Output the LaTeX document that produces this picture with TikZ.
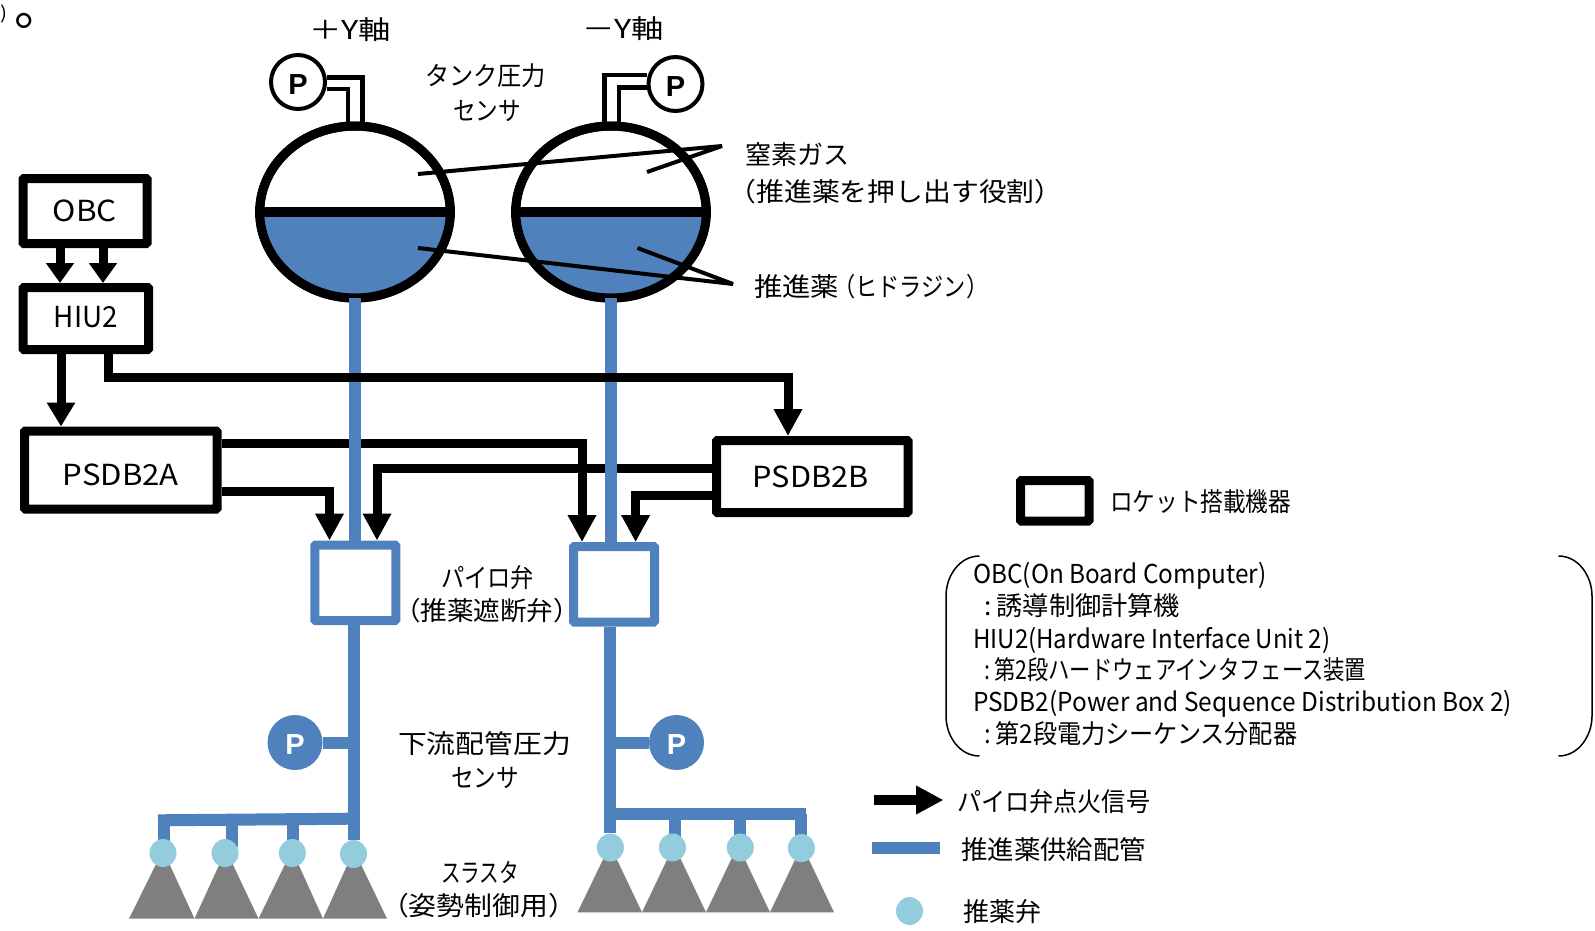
\documentclass[tikz,border=0pt]{standalone}
\usepackage{fontspec}
\usepackage{graphicx}
\usetikzlibrary{arrows.meta,shapes.geometric,calc}
\setmainfont{Noto Sans CJK JP}
\newfontfamily\pfont{Liberation Sans Bold}
\definecolor{pipeblue}{HTML}{4F81BD}
\definecolor{valveblue}{HTML}{93CDDD}
\definecolor{thrgray}{HTML}{7F7F7F}
\newcommand\TX[2]{\resizebox{#1pt}{\height}{#2}}
\newcommand\LT[2]{\resizebox{#1pt}{\height}{\fontsize{29}{29}\selectfont #2}}
% #1 = twice the downward offset of the content inside a centred node
\newcommand\DN[2]{\raisebox{0pt}[\dimexpr\height+#1pt\relax]{#2}}
\pgfdeclarelayer{under}
\pgfsetlayers{under,main}
\tikzset{
 every node/.style={inner sep=0pt,font=\fontsize{26}{26}\selectfont},
 devbox/.style={draw=black,line width=9pt,fill=white,rounded corners=1pt,minimum width=#1},
 valvebox/.style={draw=pipeblue,line width=9pt,fill=white,rounded corners=1pt,minimum width=81pt,minimum height=75.5pt},
 sig/.style={draw=black,line width=9pt,-{Triangle[length=#1,width=27pt]}},
 sig/.default=27pt,
 pipe/.style={draw=pipeblue,line width=12pt},
 tank/.style={ellipse,draw=black,line width=9pt,minimum width=190.5pt,minimum height=172pt},
 gauge/.style={circle,draw=black,line width=4pt,fill=white,minimum size=54pt,font=\pfont\fontsize{29}{29}\selectfont},
 bluegauge/.style={circle,fill=pipeblue,text=white,minimum size=55pt,font=\pfont\fontsize{29}{29}\selectfont},
 tube/.style={draw=black,line width=4.5pt},
 callout/.style={draw=black,line width=4pt,line join=bevel},
 thv/.style={ellipse,fill=valveblue,minimum width=27pt,minimum height=28pt},
 thr/.style={fill=thrgray},
 brk/.style={draw=black,line width=1.5pt},
}
\begin{document}
\begin{tikzpicture}[x=1pt,y=-1pt]
\useasboundingbox (0,0) rectangle (1595,930);
\begin{pgfonlayer}{under}
\fill[white] (0,0) rectangle (1595,930);
\foreach \a/\b/\c in {129/163/194.5,194.5/226/258.5,258.5/292/323,323/354/387}
 \fill[thr] (\a,918.7) -- (\b,850) -- (\c,918.7) -- cycle;
\foreach \a/\b/\c in {577.5/610/642,642/674/706,706/738/770,770/802/834}
 \fill[thr] (\a,912.3) -- (\b,845) -- (\c,912.3) -- cycle;
\end{pgfonlayer}

% text at the top-left corner
\node[anchor=base west,font=\fontsize{18}{18}\selectfont] (topfragA) at (0.5,19.4) {\TX{7}{)}};
\node[anchor=base west,font=\fontsize{50}{50}\selectfont] (topfragB) at (14,25) {\smash{。}};

% tanks
\node[tank] (tankL) at (355,212) {};
\node[tank] (tankR) at (611,212) {};
\begin{scope}
 \clip (355,212) ellipse [x radius=95pt,y radius=86pt];
 \fill[pipeblue] (255,212) rectangle (455,305);
\end{scope}
\begin{scope}
 \clip (611,212) ellipse [x radius=95pt,y radius=86pt];
 \fill[pipeblue] (511,212) rectangle (711,305);
\end{scope}
\draw[black,line width=9pt] (tankL.center) ellipse [x radius=95.25pt,y radius=86pt];
\draw[black,line width=9pt] (tankR.center) ellipse [x radius=95.25pt,y radius=86pt];
\draw[black,line width=9.5pt] (tankL.west) -- (tankL.east);
\draw[black,line width=9.5pt] (tankR.west) -- (tankR.east);

% tank pressure sensors
\node[gauge] (gaugeL) at (298,82) {\DN{5}{P}};
\node[gauge] (gaugeR) at (675.5,84) {\DN{5}{P}};
\coordinate (gLa) at (362.6,77.5);
\coordinate (gLb) at (348,89);
\coordinate (gRa) at (604.5,75);
\coordinate (gRb) at (619,87.5);
\draw[tube] (gaugeL.east |- gLa) -- (gLa) -- (gLa |- tankL.north);
\draw[tube] (gaugeL.east |- gLb) -- (gLb) -- (gLb |- tankL.north);
\draw[tube] (gaugeR.west |- gRa) -- (gRa) -- (gRa |- tankR.north);
\draw[tube] (gaugeR.west |- gRb) -- (gRb) -- (gRb |- tankR.north);

% devices
\node[devbox=124pt,minimum height=65pt] (obc) at (85,211) {\LT{64}{OBC}};
\node[devbox=125.5pt,minimum height=62pt] (hiu) at (85.75,318.5) {\raisebox{0pt}[\height][\dimexpr\depth+2pt\relax]{\LT{64}{HIU2}}};
\node[devbox=192.5pt,minimum height=78pt] (psdba) at (120.75,470) {\DN{9}{\LT{116}{PSDB2A}}};
\node[devbox=191.5pt,minimum height=72pt] (psdbb) at (812.25,476.5) {\LT{116}{PSDB2B}\kern3pt};

% valves
\node[valvebox] (valveL) at (355.25,582.75) {};
\node[valvebox] (valveR) at (614,584.25) {};

% signals passing under the pipes
\coordinate (hiuRun) at (788,377);
\coordinate (aUp) at (582,443.5);
\coordinate (aLo) at (329.5,491);
\coordinate (bUp) at (377,468.5);
\coordinate (bLo) at (635.6,495);
\draw[sig] (psdba.east |- aUp) -| (aUp |- valveR.north);
\draw[sig] (psdbb.west |- bUp) -| (bUp |- valveL.north);

% pipes from tanks
\draw[pipe] ([yshift=4.7pt]tankL.south) -- (valveL.north -| tankL.south);
\draw[pipe] ([yshift=4.7pt]tankR.south) -- (valveR.north -| tankR.south);

% signals above the pipes
\draw[sig=20pt] ([xshift=-25pt]obc.south) -- ([xshift=-25.75pt]hiu.north);
\draw[sig=20pt] ([xshift=18pt]obc.south) -- ([xshift=17.25pt]hiu.north);
\draw[sig=24pt] ([xshift=-24.75pt]hiu.south) -- ([xshift=-59.75pt]psdba.north);
\draw[sig] ([xshift=22.75pt]hiu.south) |- (hiuRun) -- (hiuRun |- psdbb.north);
\draw[sig] (psdba.east |- aLo) -| (aLo |- valveL.north);
\draw[sig] (psdbb.west |- bLo) -| (bLo |- valveR.north);

% callouts
\coordinate (c1) at (418,174);
\coordinate (c2) at (722,146);
\coordinate (c3) at (647,172);
\coordinate (c4) at (418,248);
\coordinate (c5) at (733,284);
\coordinate (c6) at (637.5,248);
\draw[callout] (c1) -- (c2) -- (c3);
\draw[callout] (c4) -- (c5) -- (c6);

% downstream sensors
\node[bluegauge] (pL) at (295,742.5) {\DN{4}{P}};
\node[bluegauge] (pR) at (676.5,742.5) {\DN{4}{P}};

% thruster valves
\node[thv] (vL1) at (163,853) {};
\node[thv] (vL2) at (225,853) {};
\node[thv] (vL3) at (292.4,853) {};
\node[thv] (vL4) at (353.5,854) {};
\node[thv] (vR1) at (610.4,847.5) {};
\node[thv] (vR2) at (672.5,847.5) {};
\node[thv] (vR3) at (740.3,847.5) {};
\node[thv] (vR4) at (801.4,848) {};

% lower pipes, beneath the valves
\coordinate (mLa) at (158,820.3);
\coordinate (mLb) at (350,818.7);
\coordinate (mL1) at (163.5,820);
\coordinate (mL2) at (232,820);
\coordinate (mL2e) at (232,847);
\coordinate (mL3) at (293,820);
\coordinate (mRb) at (806,814);
\coordinate (mR2) at (675,814);
\coordinate (mR3) at (740,814);
\coordinate (mR4) at (801.4,814);
\begin{pgfonlayer}{under}
\draw[pipe] (valveL.south -| vL4) -- (vL4);
\draw[pipe] (valveR.south -| vR1) -- (vR1);
\draw[pipe] (pL.east) -- (pL.east -| vL4);
\draw[pipe] (pR.west) -- (pR.west -| vR1);
\draw[pipe] (mLa) -- (mLb);
\draw[pipe] (mRb) -- (mRb -| vR1);
\draw[pipe] (mL1) -- (mL1 |- vL1);
\draw[pipe] (mL2) -- (mL2e);
\draw[pipe] (mL3) -- (mL3 |- vL3);
\draw[pipe] (mR2) -- (mR2 |- vR2);
\draw[pipe] (mR3) -- (mR3 |- vR3);
\draw[pipe] (mR4) -- (mR4 |- vR4);
\end{pgfonlayer}

% labels
\node (tPlus) at (350,30) {\TX{82}{＋Y軸}};
\node (tMinus) at (623,29) {\TX{82}{－Y軸}};
\node (tTank) at (485.5,76) {\TX{121}{タンク圧力}};
\node (tSen) at (487,111) {\TX{68}{センサ}};
\node[anchor=west] (tN2) at (745,155) {\TX{104}{窒素ガス}};
\node (tN2b) at (895.5,192) {\TX{334}{（推進薬を押し出す役割）}};
\node[anchor=west] (tHyd) at (754,287) {\TX{85}{推進薬}\kern-6pt\TX{155}{（ヒドラジン）}};
\node (tPyro) at (487.5,578) {\TX{93}{パイロ弁}};
\node (tPyro2) at (487,611) {\TX{186}{（推薬遮断弁）}};
\node (tDown) at (484.5,744) {\TX{173}{下流配管圧力}};
\node (tDown2) at (485,778) {\TX{68}{センサ}};
\node (tThr) at (480,872) {\TX{78}{スラスタ}};
\node (tThr2) at (478.5,906) {\TX{195}{（姿勢制御用）}};

% legend
\node[devbox=68.5pt,minimum height=40.5pt] (legBox) at (1054.75,500.75) {};
\node[anchor=west] (legBoxT) at (1110,502) {\TX{181}{ロケット搭載機器}};
\coordinate (brLa) at (979.5,556);
\coordinate (brLb) at (946,596);
\coordinate (brLc) at (946,716);
\coordinate (brLd) at (979.5,756);
\coordinate (brRa) at (1558.5,556);
\coordinate (brRb) at (1592,596);
\coordinate (brRc) at (1592,716);
\coordinate (brRd) at (1558.5,756);
\draw[brk] (brLa) .. controls ($(brLa)+(-20,0)$) and ($(brLb)+(0,-20)$) .. (brLb) -- (brLc) .. controls ($(brLc)+(0,20)$) and ($(brLd)+(-20,0)$) .. (brLd);
\draw[brk] (brRa) .. controls ($(brRa)+(20,0)$) and ($(brRb)+(0,-20)$) .. (brRb) -- (brRc) .. controls ($(brRc)+(0,20)$) and ($(brRd)+(20,0)$) .. (brRd);
\node[anchor=west] (l1) at (973,576) {\TX{293}{OBC(On Board Computer)}};
\node[anchor=west] (l2) at (984,606) {\TX{196}{:\kern5pt 誘導制御計算機}};
\node[anchor=west] (l3) at (973,640) {\TX{357}{HIU2(Hardware Interface Unit 2)}};
\node[anchor=west] (l4) at (984,669.5) {\TX{382}{:\kern5pt 第2段ハードウェアインタフェース装置}};
\node[anchor=west] (l5) at (973,704) {\TX{539}{PSDB2(Power and Sequence Distribution Box 2)}};
\node[anchor=west] (l6) at (984,734) {\TX{313}{:\kern5pt 第2段電力シーケンス分配器}};
\coordinate (legAa) at (874,800);
\coordinate (legAb) at (943.5,800);
\draw[draw=black,line width=10pt,-{Triangle[length=27.5pt,width=27pt]}] (legAa) -- (legAb);
\node[anchor=west] (tl1) at (957,802) {\TX{193}{パイロ弁点火信号}};
\coordinate (legPa) at (871.5,848);
\coordinate (legPb) at (939.5,848);
\draw[pipe] (legPa) -- (legPb);
\node[anchor=west] (tl2) at (961,850) {\TX{185}{推進薬供給配管}};
\node[thv] (legV) at (909.5,911) {};
\node[anchor=west] (tl3) at (963,912) {\TX{78}{推薬弁}};
\end{tikzpicture}
\end{document}
